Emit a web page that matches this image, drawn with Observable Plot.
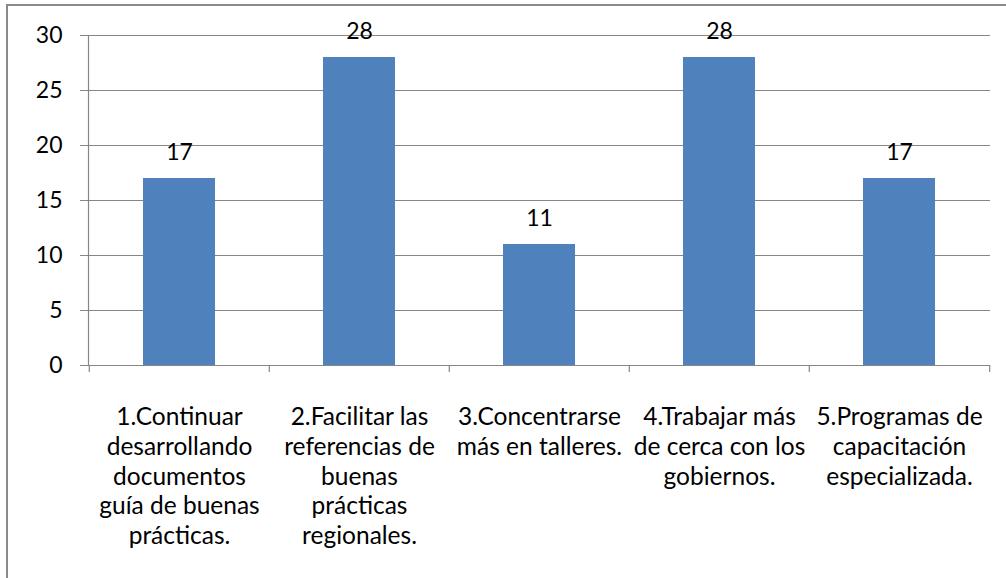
<!DOCTYPE html>
<html><head><meta charset="utf-8">
<script src="https://cdn.jsdelivr.net/npm/d3@7"></script>
<script src="https://cdn.jsdelivr.net/npm/@observablehq/plot@0.6"></script>
<style>
html,body{margin:0;padding:0;background:#fff;overflow:hidden;width:1006px;height:578px;}
#frame{position:absolute;left:6px;top:4px;width:1100px;height:700px;border-top:2px solid #8a8a8a;border-left:2px solid #8a8a8a;}
#chart{position:absolute;left:0;top:0;}
</style></head><body><div id="frame"></div><div id="chart"></div>
<script>
const categories = [
  "1.Continuar\ndesarrollando\ndocumentos\nguía de buenas\nprácticas.",
  "2.Facilitar las\nreferencias de\nbuenas\nprácticas\nregionales.",
  "3.Concentrarse\nmás en talleres.",
  "4.Trabajar más\nde cerca con los\ngobiernos.",
  "5.Programas de\ncapacitación\nespecializada."
];
const values = [17, 28, 11, 28, 17];
const yTicks = [0, 5, 10, 15, 20, 25, 30];

const data = categories.map((c, i) => ({category: c, value: values[i]}));
const W = 1006, H = 578, mL = 88, mR = 16;
const step = (W - mL - mR) / categories.length;
const gray = "#868686";
const font = "Lato, 'Noto Sans', sans-serif";

const chart = Plot.plot({
  width: W, height: H,
  marginLeft: mL, marginRight: mR, marginTop: 35, marginBottom: 213,
  style: {fontFamily: font, fontSize: "23px", color: "#000", background: "transparent", overflow: "visible"},
  x: {domain: categories, paddingInner: 0.6, paddingOuter: 0.3, axis: null, label: null},
  y: {domain: [0, 30], axis: null, label: null},
  marks: [
    Plot.gridY(yTicks, {stroke: gray, strokeOpacity: 1, strokeWidth: 1.2, insetLeft: -8}),
    Plot.barY(data, {x: "category", y: "value", fill: "#4F81BD"}),
    Plot.frame({anchor: "left", stroke: gray, strokeWidth: 1.2}),
    Plot.axisX(categories, {tickSize: 7, text: null, dx: -step / 2, stroke: gray, strokeWidth: 1.2, label: null}),
    Plot.axisX([categories[categories.length - 1]], {tickSize: 7, text: null, dx: step / 2, stroke: gray, strokeWidth: 1.2, label: null}),
    Plot.axisX(categories, {tickSize: 0, tickPadding: 38, lineHeight: 1.22, fontSize: 24.5, fill: "#000", label: null, lineWidth: Infinity, textOverflow: null}),
    Plot.axisY(yTicks, {tickSize: 0, tickPadding: 26, fontSize: 23, fill: "#000", label: null}),
    Plot.text(data, {x: "category", y: "value", text: d => String(d.value), lineAnchor: "bottom", dy: -19, fontSize: 23, fill: "#000"})
  ]
});
document.getElementById("chart").appendChild(chart);
</script>
</body></html>
